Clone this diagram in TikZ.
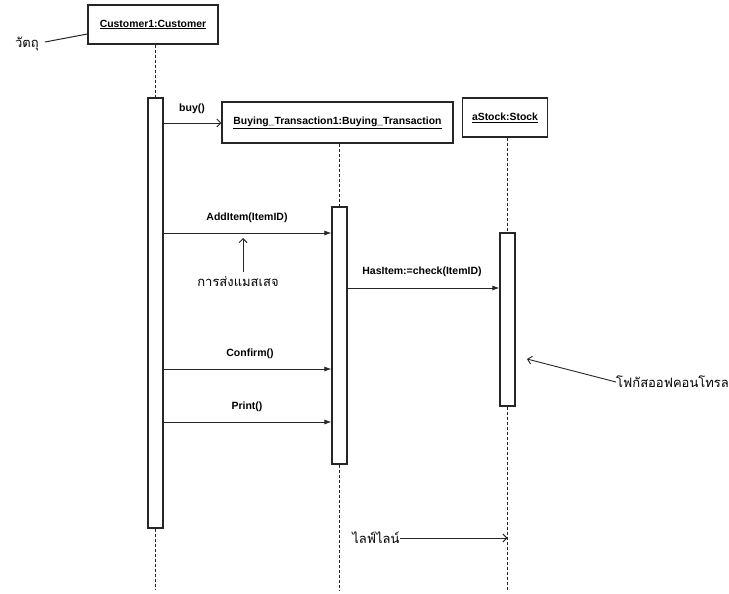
\documentclass[tikz,border=0pt]{standalone}
\usepackage{fontspec}
\setmainfont{Liberation Sans}
\newfontfamily\thaifont[Script=Thai]{Loma}
\usetikzlibrary{arrows.meta}
\begin{document}
\begin{tikzpicture}[x=1pt,y=-1pt,
  ink/.style={draw=black!85, line width=1.1pt},
  obj/.style={ink, rectangle, inner sep=0pt, font=\bfseries\fontsize{10.4}{12}\selectfont},
  act/.style={ink, rectangle, minimum width=15, inner sep=0pt, fill=white},
  life/.style={draw=black!85, line width=1.2pt, dash pattern=on 3pt off 2pt},
  msg/.style={ink, line width=0.9pt, -{Latex[length=7pt,width=5pt]}},
  opena/.style={ink, line width=0.9pt, -{Straight Barb[length=4pt,width=8pt]}},
  lbl/.style={font=\bfseries\fontsize{10.5}{12}\selectfont, inner sep=0pt},
  thai/.style={font=\thaifont\fontsize{13}{15}\selectfont, inner sep=0pt}]
\useasboundingbox[fill=white] (0,0) rectangle (729,594);

% objects
\node[obj, minimum width=130, minimum height=39] (cust) at (153,24.5) {\underline{Customer1:Customer}};
\node[obj, minimum width=231, minimum height=41] (bt) at (337.5,122.5) {\underline{Buying\_Transaction1:Buying\_Transaction}};
\node[obj, minimum width=85, minimum height=39] (st) at (505,117.5) {\underline{aStock:Stock}};

% activations
\node[act, minimum height=430] (a1) at (155.5,313) {};
\node[act, minimum height=257] (a2) at (339.5,335.5) {};
\node[act, minimum height=173] (a3) at (507.5,319.5) {};

% lifelines
\coordinate (bot) at (0,590);
\draw[life] (a1.north |- cust.south) -- (a1.north);
\draw[life] (a1.south) -- (a1.south |- bot);
\draw[life] (a2.north |- bt.south) -- (a2.north);
\draw[life] (a2.south) -- (a2.south |- bot);
\draw[life] (a3.north |- st.south) -- (a3.north);
\draw[life] (a3.south) -- (a3.south |- bot);

% messages
\coordinate (yBuy) at (0,123);
\coordinate (yAdd) at (0,233);
\coordinate (yHas) at (0,288);
\coordinate (yCon) at (0,369);
\coordinate (yPri) at (0,422);
\draw[opena] (a1.east |- yBuy) -- (bt.west |- yBuy);
\draw[msg] (a1.east |- yAdd) -- (a2.west |- yAdd);
\draw[msg] (a2.east |- yHas) -- (a3.west |- yHas);
\draw[msg] (a1.east |- yCon) -- (a2.west |- yCon);
\draw[msg] (a1.east |- yPri) -- (a2.west |- yPri);

\node[lbl] (lbuy) at (192,109) {buy()};
\node[lbl] (ladd) at (247,218) {AddItem(ItemID)};
\node[lbl] (lhas) at (422,272) {HasItem:=check(ItemID)};
\node[lbl] (lcon) at (250,354) {Confirm()};
\node[lbl] (lpri) at (247,407) {Print()};

% annotations
\node[thai] (tobj) at (27,44) {วัตถุ};
\draw[ink, line width=1pt] (tobj.east) ++(6,-2) coordinate (o1) -- (cust.west |- 0,34);

\node[thai] (tmsg) at (238,282) {การส่งแมสเสจ};
\coordinate (m1) at (243,272);
\coordinate (m2) at (243,238);
\draw[opena] (m1) -- (m2);

\node[thai, anchor=west] (tfoc) at (616,382) {โฟกัสออฟคอนโทรล};
\coordinate (f2) at (527,359);
\draw[opena] (tfoc.west) -- (f2);

\node[thai] (tlife) at (376,538) {ไลฟ์ไลน์};
\draw[opena] (tlife.east) -- (a3.south |- tlife.east);
\end{tikzpicture}
\end{document}
